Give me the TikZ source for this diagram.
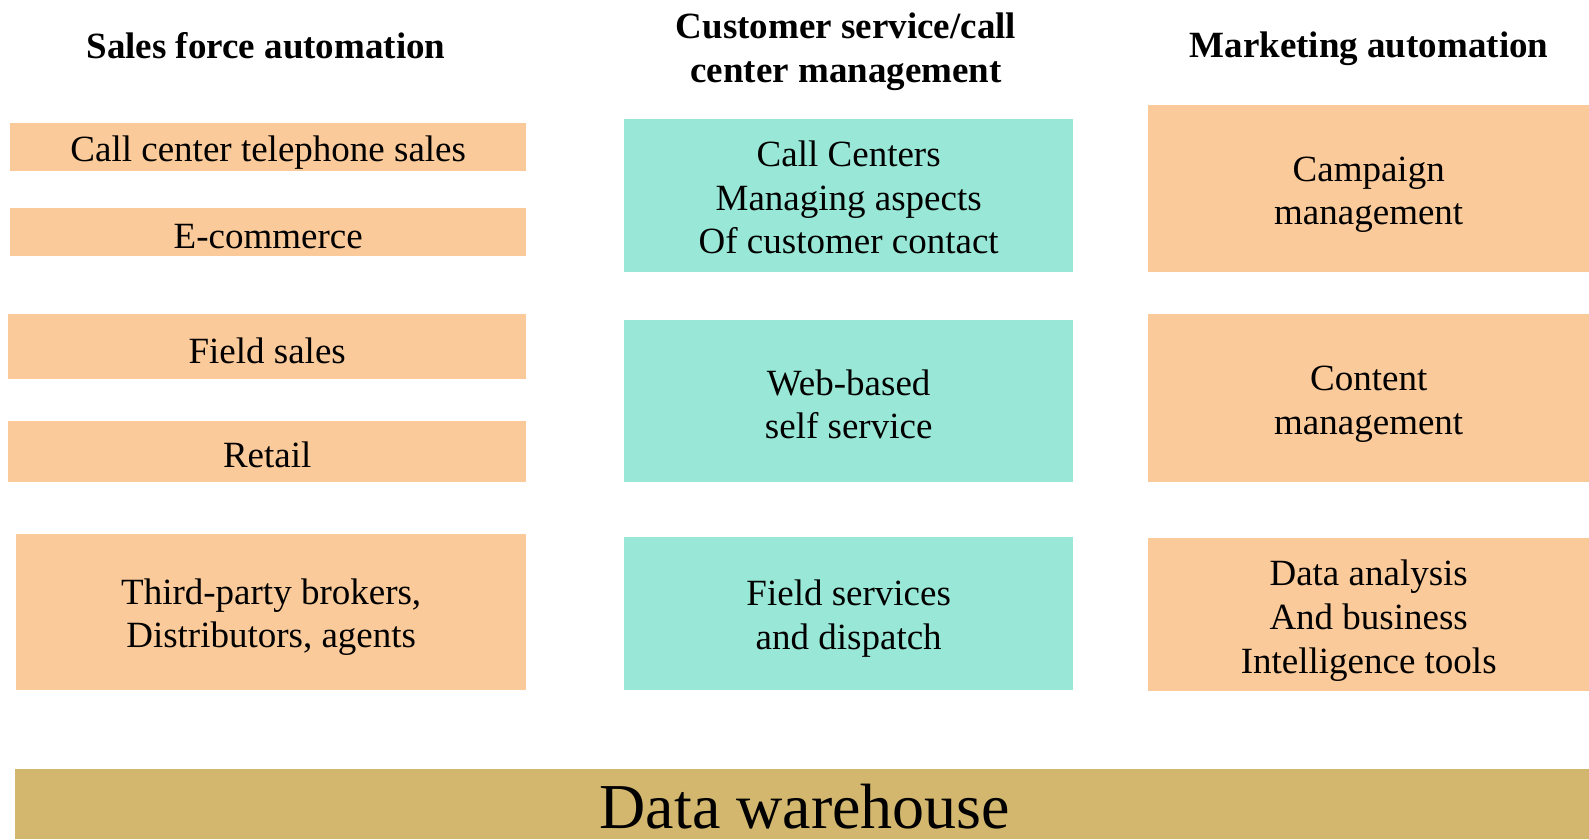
\documentclass[tikz,border=0pt]{standalone}
\usepackage{fontspec}
\setmainfont{Liberation Serif}
\definecolor{peach}{RGB}{251,202,154}
\definecolor{aqua}{RGB}{153,232,215}
\definecolor{gold}{RGB}{212,183,110}
\begin{document}
\begin{tikzpicture}[x=1pt,y=-1pt,
  txt/.style={font=\fontsize{37}{43.6}\selectfont, align=center, inner sep=0pt},
  head/.style={font=\fontsize{37}{43.7}\selectfont\bfseries, align=center, inner sep=0pt},
  cell/.style={inner sep=0pt, anchor=north west},
  salesbox/.style={cell, fill=peach},
  servicebox/.style={cell, fill=aqua},
  marketbox/.style={cell, fill=peach}]
\useasboundingbox (0,0) rectangle (1589,839);

% column headings
\node[head] (h1) at (266,46) {Sales force automation};
\node[head] (h2) at (846,52) {Customer service/call\\center management};
\node[head] (h3) at (1369,49) {Marketing automation};

% sales force automation
\node[salesbox, minimum width=516pt, minimum height=48pt] (s1) at (10,123) {};
\node[salesbox, minimum width=516pt, minimum height=48pt] (s2) at (10,208) {};
\node[salesbox, minimum width=518pt, minimum height=65pt] (s3) at (8,314) {};
\node[salesbox, minimum width=518pt, minimum height=61pt] (s4) at (8,421) {};
\node[salesbox, minimum width=510pt, minimum height=156pt] (s5) at (16,534) {};
\node[txt] (s1t) at ([yshift=-5pt]s1.center) {Call center telephone sales};
\node[txt] (s2t) at ([yshift=-4pt]s2.center) {E-commerce};
\node[txt] (s3t) at ([yshift=-4pt]s3.center) {Field sales};
\node[txt] (s4t) at ([yshift=-3pt]s4.center) {Retail};
\node[txt] (s5t) at ([yshift=-5pt]s5.center) {Third-party brokers,\\Distributors, agents};

% customer service / call center
\node[servicebox, minimum width=449pt, minimum height=153pt] (c1) at (624,119) {};
\node[servicebox, minimum width=449pt, minimum height=162pt] (c2) at (624,320) {};
\node[servicebox, minimum width=449pt, minimum height=153pt] (c3) at (624,537) {};
\node[txt] (c1t) at ([yshift=-2pt]c1.center) {Call Centers\\Managing aspects\\Of customer contact};
\node[txt] (c2t) at ([yshift=-3pt]c2.center) {Web-based\\self service};
\node[txt] (c3t) at ([yshift=-5pt]c3.center) {Field services\\and dispatch};

% marketing automation
\node[marketbox, minimum width=441pt, minimum height=167pt] (m1) at (1148,105) {};
\node[marketbox, minimum width=441pt, minimum height=168pt] (m2) at (1148,314) {};
\node[marketbox, minimum width=441pt, minimum height=153pt] (m3) at (1148,538) {};
\node[txt] (m1t) at ([yshift=-6pt]m1.center) {Campaign\\management};
\node[txt] (m2t) at ([yshift=-6pt]m2.center) {Content\\management};
\node[txt] (m3t) at ([yshift=-6pt]m3.center) {Data analysis\\And business\\Intelligence tools};

% data warehouse band
\node[fill=gold, anchor=north west, inner sep=0pt, minimum width=1574pt, minimum height=70pt] (dw) at (15,769) {};
\node[font=\fontsize{64}{70}\selectfont, anchor=base, inner sep=0pt] (dwt) at (805,828) {Data warehouse};
\end{tikzpicture}
\end{document}
